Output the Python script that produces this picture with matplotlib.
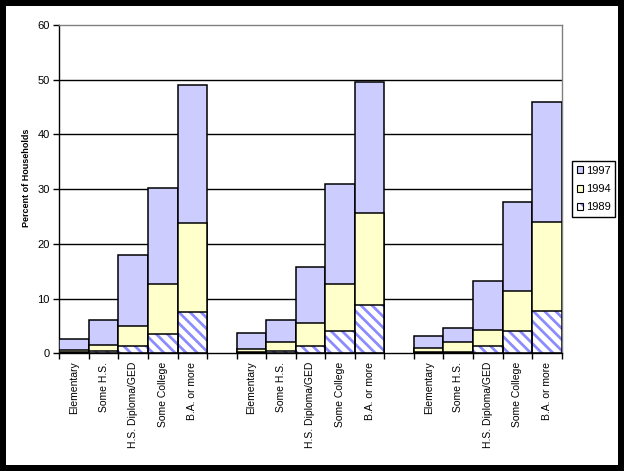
import matplotlib
matplotlib.use("Agg")
import matplotlib.pyplot as plt
from matplotlib.patches import Rectangle, Patch
from matplotlib.legend_handler import HandlerTuple
import numpy as np

plt.rcParams['font.family'] = ['Liberation Sans', 'DejaVu Sans']
plt.rcParams['hatch.linewidth'] = 2.0

categories = ["Elementary", "Some H.S.", "H.S. Diploma/GED", "Some College", "B.A. or more"]
n_groups = 3
series_names = ["1997", "1994", "1989"]

# values per group (3 groups x 5 categories)
v1997 = [
    [2.6, 6.0, 17.9, 30.2, 49.0],
    [3.7, 6.0, 15.7, 30.9, 49.6],
    [3.1, 4.6, 13.2, 27.6, 45.9],
]
v1994 = [
    [0.6, 1.5, 4.9, 12.6, 23.8],
    [0.7, 2.0, 5.5, 12.6, 25.6],
    [0.9, 2.0, 4.2, 11.3, 24.0],
]
v1989 = [
    [0.3, 0.4, 1.3, 3.6, 7.6],
    [0.3, 0.4, 1.4, 4.0, 8.9],
    [0.2, 0.3, 1.3, 4.0, 7.8],
]
y_ticks = [0, 10, 20, 30, 40, 50, 60]

C97 = '#CCCCFF'
C94 = '#FFFFCC'
HATCHC = '#8C8CFF'
HATCH = '\\\\\\'

fig = plt.figure(figsize=(6.24, 4.71), dpi=100)
fig.patch.set_facecolor('black')
fig.patches.append(Rectangle((6/624, 6/471), 612/624, 459/471, transform=fig.transFigure,
                             facecolor='white', edgecolor='none', zorder=-10))

ax = fig.add_axes([59.3/624, 1-353.3/471, 502.4/624, 328.3/471])
ax.set_facecolor('white')

ncat = len(categories)
slots_per_group = ncat + 1
x_pos = []
x_labels = []
for g in range(n_groups):
    for i in range(ncat):
        x_pos.append(g*slots_per_group + i + 0.5)
        x_labels.append(categories[i])
x_pos = np.array(x_pos)
a97 = np.array(v1997).ravel()
a94 = np.array(v1994).ravel()
a89 = np.array(v1989).ravel()

ax.bar(x_pos, a97, width=1.0, color=C97, edgecolor='black', linewidth=1.1, zorder=3)
ax.bar(x_pos, a94, width=1.0, color=C94, edgecolor='black', linewidth=1.1, zorder=4)
ax.bar(x_pos, a89, width=1.0, color='white', edgecolor=HATCHC, hatch=HATCH, linewidth=0, zorder=5)
ax.bar(x_pos, a89, width=1.0, fill=False, edgecolor='black', linewidth=1.1, zorder=6)

total_slots = n_groups*slots_per_group - 1
ax.set_xlim(0, total_slots)
ax.set_ylim(0, 60)
ax.set_yticks(y_ticks)
ax.tick_params(axis='y', labelsize=8, length=4, width=1, direction='out', pad=3)
for yv in y_ticks[1:-1]:
    ax.axhline(yv, color='black', linewidth=1.0, zorder=1)

ax.set_xticks(x_pos)
ax.set_xticklabels(x_labels, rotation=90, fontsize=7.5, va='top', ha='center')
ax.tick_params(axis='x', which='major', length=0, pad=6)
ax.set_xticks(np.arange(0, total_slots+1), minor=True)
ax.tick_params(axis='x', which='minor', length=4, width=1, direction='out')

for s in ['top', 'right']:
    ax.spines[s].set_color('#808080')
    ax.spines[s].set_linewidth(1.0)
for s in ['left', 'bottom']:
    ax.spines[s].set_color('black')
    ax.spines[s].set_linewidth(1.0)
ax.spines['bottom'].set_zorder(7)

ax.set_ylabel("Percent of Households", fontsize=6.5, fontweight='bold')
ax.yaxis.set_label_coords(-0.0563, 0.534)

h97 = Patch(facecolor=C97, edgecolor='black', linewidth=0.8)
h94 = Patch(facecolor=C94, edgecolor='black', linewidth=0.8)
h89a = Patch(facecolor='white', edgecolor=HATCHC, hatch=HATCH, linewidth=0)
h89b = Patch(fill=False, edgecolor='black', linewidth=0.8)
leg = fig.legend([h97, h94, (h89a, h89b)], series_names, loc='upper left',
                 handler_map={tuple: HandlerTuple(ndivide=1)},
                 bbox_to_anchor=(572.3/624, 1-161.3/471), fontsize=8,
                 frameon=True, fancybox=False, edgecolor='black', framealpha=1,
                 handlelength=0.6, handleheight=0.6, handletextpad=0.25,
                 borderpad=0.4, borderaxespad=0, labelspacing=0.75)
leg.get_frame().set_linewidth(1.0)

fig.savefig('out.png', dpi=100, facecolor=fig.get_facecolor())
